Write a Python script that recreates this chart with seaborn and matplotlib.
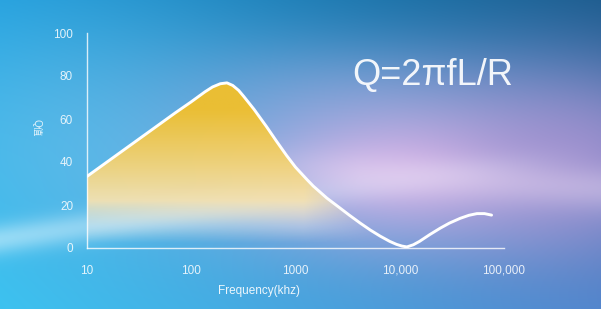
import numpy as np
import pandas as pd
import matplotlib
matplotlib.use("Agg")
import matplotlib.pyplot as plt
import seaborn as sns
from matplotlib.colors import to_rgb

# ---- data ----
freq_khz = [10, 20, 40, 70, 100, 135, 160, 190, 220, 250, 285, 320, 400, 528,
            650, 822, 1000, 1290, 1480, 2000, 2670, 3300, 4170, 5200, 6500,
            8000, 9300, 10500, 11700, 13500, 15500, 19500, 24400, 30000,
            38000, 46000, 55000, 65000, 76000]
q_value = [33.3, 43.8, 54.3, 62.8, 68.0, 72.6, 74.9, 76.4, 76.8, 75.6, 73.3,
           70.4, 64.5, 56.4, 50.0, 43.0, 37.6, 31.8, 28.8, 23.2, 18.6, 15.2,
           11.6, 8.4, 5.5, 3.1, 1.7, 0.9, 0.5, 1.5, 3.1, 6.3, 9.2, 11.6,
           13.8, 15.2, 16.0, 16.0, 15.3]
x_ticks = [10, 100, 1000, 10000, 100000]
x_tick_labels = ["10", "100", "1000", "10,000", "100,000"]
y_ticks = [0, 20, 40, 60, 80, 100]
formula_text = "Q=2\u03c0fL/R"
x_label = "Frequency(khz)"
y_label = "Q\u503c"

df = pd.DataFrame({"freq": freq_khz, "q": q_value})

sns.set_theme(style="white")
plt.rcParams["font.family"] = ["Liberation Sans", "Noto Sans CJK SC", "DejaVu Sans"]

W, H = 601, 309
fig = plt.figure(figsize=(W / 100, H / 100), dpi=100)

# ---- background gradient ----
yy, xx = np.mgrid[0:H, 0:W]
u = xx / (W - 1)
v = yy / (H - 1)

def c(h):
    return np.array(to_rgb(h))

TL, TR, BL, BR = c("#1E9EDD"), c("#1A5C8E"), c("#38C2F0"), c("#4A84CC")
img = (TL[None, None] * ((1 - u) * (1 - v))[..., None]
       + TR[None, None] * (u * (1 - v))[..., None]
       + BL[None, None] * ((1 - u) * v)[..., None]
       + BR[None, None] * (u * v)[..., None])

def blob(img, cu, cv, su, sv, col, w):
    g = np.exp(-(((u - cu) / su) ** 2 + ((v - cv) / sv) ** 2) / 2) * w
    return img * (1 - g[..., None]) + c(col)[None, None] * g[..., None]

img = blob(img, 0.12, 0.45, 0.22, 0.30, "#6CC4EE", 0.55)
img = blob(img, 0.55, 0.28, 0.22, 0.12, "#7FA6DA", 0.40)
img = blob(img, 0.68, 0.55, 0.24, 0.19, "#E8BAEC", 0.85)
img = blob(img, 0.97, 0.52, 0.16, 0.22, "#AC92D2", 0.70)
# light streaks
band_c = 0.775 - 0.28 * u
g = np.exp(-((v - band_c) / 0.035) ** 2 / 2) * 0.5 * np.clip(1.0 - u, 0, 1)
img = img * (1 - g[..., None]) + c("#E6F8FF")[None, None] * g[..., None]
band2 = 0.55 + 0.12 * (u - 0.5)
g2 = np.exp(-((v - band2) / 0.05) ** 2 / 2) * 0.35 * np.clip((u - 0.35) / 0.25, 0, 1)
img = img * (1 - g2[..., None]) + c("#F6E6F8")[None, None] * g2[..., None]
img = np.clip(img, 0, 1)

bg = fig.add_axes([0, 0, 1, 1])
bg.imshow(img, aspect="auto", extent=[0, 1, 0, 1], origin="upper")
bg.axis("off")

# ---- main axes ----
ax = fig.add_axes([87 / W, 61 / H, 417 / W, 215 / H])
ax.patch.set_alpha(0)
ax.set_xscale("log")
ax.set_xlim(10, 100000)
ax.set_ylim(0, 100)

# fill with gradient
poly = ax.fill_between(df["freq"], df["q"], 0, color="none", lw=0)
gh, gw = 200, 400
av, au = np.mgrid[0:gh, 0:gw]
val = (1 - av / (gh - 1)) * 100
ax_u = au / (gw - 1)
t = np.clip((val - 10) / 55, 0, 1) ** 0.8
gold = c("#F1C02C")
pale = c("#F6F0EA")
col = pale[None, None] * (1 - t[..., None]) + gold[None, None] * t[..., None]
alpha = np.clip((val - 2) / 20, 0, 1) * 0.96
alpha *= np.clip(1 - (ax_u - 0.52) / 0.2, 0, 1)
rgba = np.dstack([col, alpha])
im = ax.imshow(rgba, extent=[0, 1, 0, 1], transform=ax.transAxes,
               aspect="auto", origin="upper", zorder=1)
im.set_clip_path(poly.get_paths()[0], transform=ax.transData)
ax.set_xlim(10, 100000)
ax.set_ylim(0, 100)

sns.lineplot(data=df, x="freq", y="q", ax=ax, color="white", lw=2.1,
             errorbar=None, zorder=3)

for s in ["top", "right"]:
    ax.spines[s].set_visible(False)
for s in ["left", "bottom"]:
    ax.spines[s].set_color((1, 1, 1, 0.8))
    ax.spines[s].set_linewidth(1.0)

ax.set_xticks(x_ticks)
ax.set_xticklabels(x_tick_labels)
ax.minorticks_off()
ax.set_yticks(y_ticks)
ax.tick_params(axis="both", colors=(1, 1, 1, 0.8), labelcolor=(1, 1, 1, 0.85),
               labelsize=8.5, length=7, width=0.9, direction="out")
ax.tick_params(axis="x", pad=5)
ax.tick_params(axis="y", pad=3)
ax.set_xlabel("")
ax.set_ylabel("")

fig.text(259 / W, 1 - 291 / H, x_label, color=(1, 1, 1, 0.9), fontsize=8.5,
         ha="center", va="center")
fig.text(37 / W, 1 - 128 / H, y_label, color=(1, 1, 1, 0.85), fontsize=7,
         ha="center", va="center", rotation=270)
fig.text(433 / W, 1 - 76 / H, formula_text, color=(1, 1, 1, 0.92), fontsize=26,
         ha="center", va="center")

fig.savefig("out.png", dpi=100)
